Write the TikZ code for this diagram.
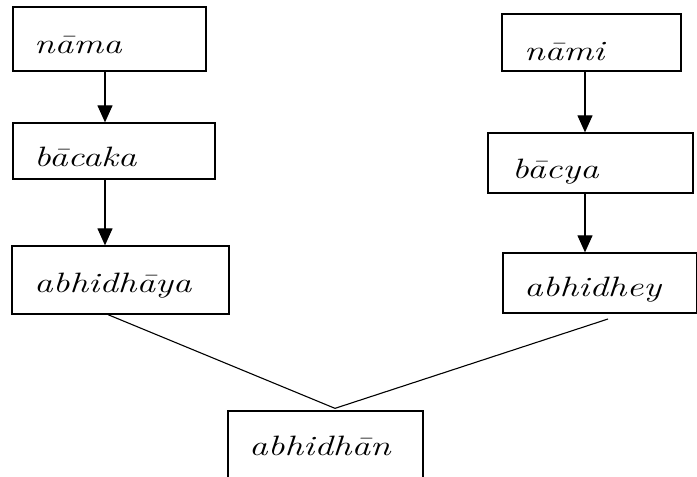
\documentclass[tikz,border=0pt]{standalone}
\usepackage{fontspec}
\newfontfamily\widefont{Latin Modern Roman}[FakeStretch=1.33]
\usetikzlibrary{arrows.meta,calc}
\tikzset{
  box/.style={draw=black, line width=1.3pt, fill=none, inner sep=0pt},
  lbl/.style={anchor=base west, inner sep=0pt, font=\widefont\itshape\fontsize{28}{33}\selectfont},
  arr/.style={line width=1.2pt, -{Triangle[width=15pt,length=17pt]}},
  conn/.style={line width=1.1pt}
}
\begin{document}
\begin{tikzpicture}[x=1pt,y=1pt]
\useasboundingbox (0,0) rectangle (697,-477);
% boxes
\node[box, minimum width=193pt, minimum height=64pt] (nama) at (109.5,-39) {};
\node[box, minimum width=202pt, minimum height=56pt] (bacaka) at (114,-151) {};
\node[box, minimum width=217pt, minimum height=68pt] (abhidhaya) at (120.5,-280) {};
\node[box, minimum width=179pt, minimum height=57pt] (nami) at (591.5,-42.5) {};
\node[box, minimum width=205pt, minimum height=60pt] (bacya) at (590.5,-163) {};
\node[box, minimum width=194pt, minimum height=60pt] (abhidhey) at (600,-283) {};
\node[box, minimum width=195pt, minimum height=68pt] (abhidhan) at (325.5,-445) {};
% texts
\node[lbl] (tnama) at (34,-53) {nāma};
\node[lbl] (tbacaka) at (34,-166) {bācaka};
\node[lbl] (tabhidhaya) at (34,-292) {abhidhāya};
\node[lbl] (tnami) at (524,-60) {nāmi};
\node[lbl] (tbacya) at (512,-178) {bācya};
\node[lbl] (tabhidhey) at (524,-296) {abhidhey};
\node[lbl] (tabhidhan) at (249,-455) {abhidhān};
% arrows
\draw[arr] ([xshift=-4.5pt]nama.south) -- ([xshift=-9pt]bacaka.north);
\draw[arr] ([xshift=-9pt]bacaka.south) -- ([xshift=-15.5pt]abhidhaya.north);
\draw[arr] ([xshift=-6.5pt]nami.south) -- ([xshift=-5.5pt]bacya.north);
\draw[arr] ([xshift=-5.5pt]bacya.south) -- ([xshift=-15pt]abhidhey.north);
% joining lines
\coordinate (meet) at ([xshift=9.5pt,yshift=2pt]abhidhan.north);
\coordinate (rfree) at (608,-319);
\draw[conn] ([xshift=-12.5pt]abhidhaya.south) -- (meet);
\draw[conn] (rfree) -- (meet);
\end{tikzpicture}
\end{document}
